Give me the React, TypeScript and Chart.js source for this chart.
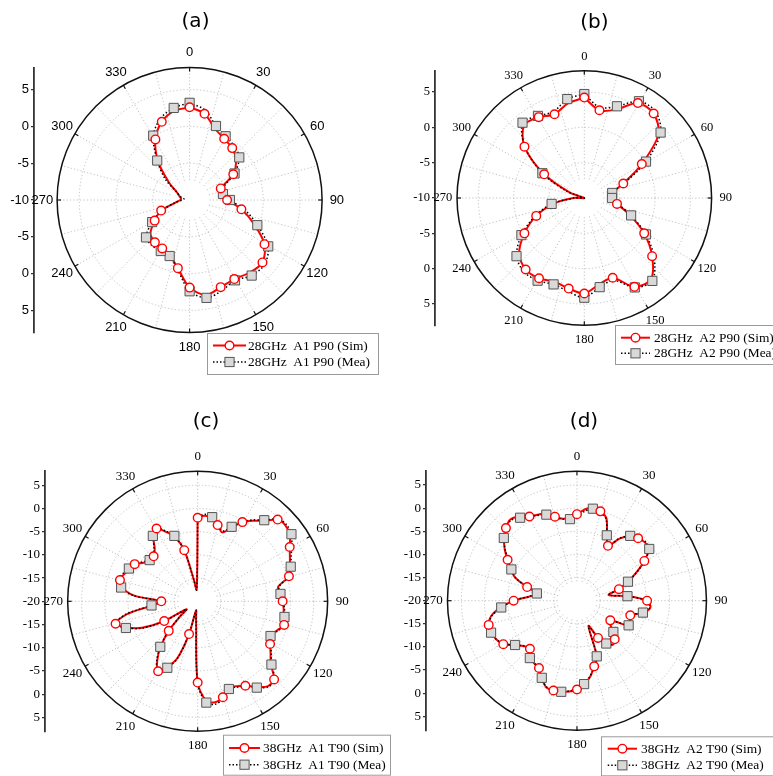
import React, { useEffect, useRef } from 'react';
import { Chart, registerables } from 'chart.js';

Chart.register(...registerables);

// ---- sample angles (degrees, clockwise from 0 at the top) ----
const ANGLES_10 = [
  0, 10, 20, 30, 40, 50, 60, 70, 80, 90, 100, 110, 120, 130, 140, 150, 160, 170,
  180, 190, 200, 210, 220, 230, 240, 250, 260, 270, 280, 290, 300, 310, 320, 330, 340, 350,
];
const ANGLES_5 = [
  0, 5, 10, 15, 20, 25, 30, 35, 40, 45, 50, 55, 60, 65, 70, 75, 80, 85,
  90, 95, 100, 105, 110, 115, 120, 125, 130, 135, 140, 145, 150, 155, 160, 165, 170, 175,
  180, 185, 190, 195, 200, 205, 210, 215, 220, 225, 230, 235, 240, 245, 250, 255, 260, 265,
  270, 275, 280, 285, 290, 295, 300, 305, 310, 315, 320, 325, 330, 335, 340, 345, 350, 355,
];

// ---- angular labels and radial ticks (dB) ----
const ANGLE_LABELS = [0, 30, 60, 90, 120, 150, 180, 210, 240, 270, 300, 330];
const TICKS_28 = [-10, -5, 0, 5];
const RINGS_28 = [-5, 0, 5];
const TICKS_38 = [-20, -15, -10, -5, 0, 5];
const RINGS_38 = [-15, -10, -5, 0, 5];

// ---- (a) 28GHz A1 P90 ----
const SIM_A1_P90 = [
  2.6, 1.9, 0.3, -0.4, -0.8, -1.6, -3.0, -5.4, -5.7, -4.8, -2.7, -0.5, 2.0, 3.2, 2.9, 2.4, 2.6, 3.1,
  1.9, -0.6, -2.0, -2.4, -2.5, -2.9, -4.4, -5.8, -8.0, -8.7, -8.8, -8.5, -8.0, -6.2, -3.2, -0.5, 1.3, 2.3,
];
const MEA_A1_P90 = [
  3.2, 2.4, 0.7, 0.0, -0.4, -1.0, -2.8, -5.0, -5.3, -4.4, -2.2, 0.0, 2.6, 3.6, 3.4, 2.6, 3.1, 3.5,
  2.4, -0.4, -1.9, -2.0, -1.9, -2.1, -4.0, -5.9, -8.0, -9.0, -9.2, -8.6, -8.0, -5.6, -3.0, 0.1, 1.8, 2.7,
];

// ---- (b) 28GHz A2 P90 ----
const SIM_A2_P90 = [
  4.2, 2.6, 3.3, 5.5, 5.6, 4.0, -0.4, -4.0, -6.0, -6.2, -5.2, -3.0, 0.0, 2.8, 5.0, 4.5, 2.0, 2.4,
  3.5, 3.0, 2.6, 3.1, 3.2, 2.3, 0.0, -2.6, -5.6, -8.4, -10.0, -7.8, -3.3, 1.3, 3.5, 3.2, 2.6, 3.6,
];
const MEA_A2_P90 = [
  4.7, 3.0, 3.8, 5.8, 6.0, 4.4, 0.3, -3.8, -5.9, -6.0, -5.0, -2.8, 0.3, 3.2, 5.3, 4.6, 2.4, 2.8,
  4.1, 3.4, 3.0, 3.5, 3.6, 2.8, 0.5, -2.4, -5.2, -8.6, -10.0, -7.4, -3.0, 1.2, 3.9, 3.4, 3.0, 4.2,
];

// ---- (c) 38GHz A1 T90 ----
const SIM_A1_T90 = [
  -2.0, -1.5, -1.8, -3.0, -4.2, -2.5, -0.3, 1.2, 2.6, 4.9, 5.3, 4.8, 3.4, 2.4, 1.6, 0.8, -2.0, -1.9,
  -1.3, -1.0, -0.8, -0.3, -1.5, -2.4, -1.6, -0.4, 1.0, 3.8, 3.9, 2.5, 1.0, 0.2, -0.2, 1.4, 2.1, 1.5,
  -2.5, -16.0, -18.0, -12.7, -7.0, -4.5, -2.6, -4.5, -7.4, -11.0, -15.0, -17.0, -11.5, -6.5, -3.5, -1.3, -4.2, -10.0,
  -12.0, -6.0, -3.1, -2.3, -2.8, -3.5, -4.0, -5.5, -6.4, -6.3, -5.3, -3.0, -1.9, -3.5, -5.2, -8.6, -15.5, -17.5,
];
const MEA_A1_T90 = [
  -1.8, -1.2, -1.6, -2.7, -3.9, -2.3, -0.2, 1.4, 2.8, 5.1, 5.6, 5.2, 3.9, 2.7, 1.8, 0.9, -1.8, -1.7,
  -1.2, -0.8, -0.6, -0.1, -1.3, -2.3, -1.4, -0.2, 1.2, 4.0, 4.1, 2.7, 1.2, 0.4, 0.1, 1.7, 2.5, 1.9,
  -2.2, -16.0, -18.0, -12.5, -6.8, -4.2, -2.4, -4.3, -7.2, -11.0, -15.0, -17.0, -11.3, -6.3, -3.2, -1.1, -4.0, -9.8,
  -11.8, -5.8, -2.9, -2.0, -2.5, -3.3, -3.7, -5.2, -6.2, -6.1, -5.1, -2.8, -1.7, -3.3, -5.0, -8.5, -15.5, -17.5,
];

// ---- (d) 38GHz A2 T90 ----
const SIM_A2_T90 = [
  -1.3, -0.2, 0.5, 0.0, -1.0, -4.3, -6.3, -3.6, -1.9, -0.9, -0.4, -0.7, -2.8, -5.5, -8.0, -10.4, -12.9, -8.8,
  -4.5, -3.7, -5.0, -7.8, -7.5, -7.3, -11.5, -11.0, -9.5, -8.2, -7.6, -8.5, -10.7, -14.0, -7.0, -5.3, -3.3, -1.8,
  -0.8, -0.3, 0.0, 0.1, -0.1, -1.5, -3.2, -3.5, -3.7, -5.3, -4.7, -3.2, -1.2, -0.3, 0.1, 0.2, -0.7, -3.0,
  -6.0, -9.5, -11.2, -8.6, -5.5, -3.8, -2.3, -0.5, 1.0, 2.2, 2.9, 2.2, 1.0, 0.5, 0.1, -1.2, -2.0, -2.0,
];
const MEA_A2_T90 = [
  -1.8, -0.6, 0.2, -0.2, -1.2, -4.4, -6.4, -3.5, -1.7, -0.8, -0.2, -0.5, -2.7, -5.4, -8.0, -10.4, -12.8, -8.8,
  -4.7, -3.8, -5.2, -8.0, -7.6, -7.4, -11.5, -11.0, -9.5, -8.2, -7.8, -8.7, -10.7, -14.0, -7.2, -5.3, -3.4, -1.9,
  -1.0, -0.4, 0.0, 0.1, -0.2, -1.6, -3.2, -3.5, -3.8, -5.5, -4.8, -3.3, -1.4, -0.3, 0.2, 0.2, -0.9, -3.2,
  -6.0, -9.4, -11.0, -8.6, -5.6, -4.0, -2.5, -0.6, 1.1, 2.2, 2.7, 1.9, 1.0, 0.4, -0.2, -1.4, -2.1, -2.3,
];

const SANS = '"Liberation Sans", Arial, sans-serif';
const SERIF = '"Liberation Serif", "Times New Roman", serif';
const RED = '#ff0000';

type Panel = {
  id: string;
  title: string;
  left: number; top: number; W: number; H: number;
  cx: number; cy: number; R: number;
  axisX: number; axisW: number;
  titleX: number; titleY: number;
  rMin: number; rMax: number;
  ticks: number[]; rings: number[];
  tickFamily: string; tickSize: number;
  angles: number[]; sim: number[]; mea: number[];
  simLabel: string; meaLabel: string;
  // markers are drawn on `keep` samples out of every `cycle`
  cycle: number; keep: number;
  legend: { x: number; y: number; w: number; h: number; row1: number; row2: number; lx1: number; lx2: number; tx: number };
};

const PANELS: Panel[] = [
  {
    id: 'a', title: '(a)', left: 0, top: 0, W: 386, H: 388,
    cx: 193, cy: 200, R: 132.5, axisX: 34, axisW: 30, titleX: 195.5, titleY: 22,
    rMin: -10, rMax: 8, ticks: TICKS_28, rings: RINGS_28, tickFamily: SANS, tickSize: 13,
    angles: ANGLES_10, sim: SIM_A1_P90, mea: MEA_A1_P90,
    simLabel: '28GHz  A1 P90 (Sim)', meaLabel: '28GHz  A1 P90 (Mea)', cycle: 3, keep: 2,
    legend: { x: 207, y: 333, w: 171, h: 41, row1: 345.5, row2: 362, lx1: 213, lx2: 246, tx: 248 },
  },
  {
    id: 'b', title: '(b)', left: 386, top: 0, W: 387, H: 388,
    cx: 201.7, cy: 198, R: 127.3, axisX: 49, axisW: 32, titleX: 208.3, titleY: 22.5,
    rMin: -10, rMax: 8, ticks: TICKS_28, rings: RINGS_28, tickFamily: SERIF, tickSize: 12.5,
    angles: ANGLES_10, sim: SIM_A2_P90, mea: MEA_A2_P90,
    simLabel: '28GHz  A2 P90 (Sim)', meaLabel: '28GHz  A2 P90 (Mea)', cycle: 3, keep: 2,
    legend: { x: 229, y: 325, w: 170, h: 39, row1: 337.7, row2: 353.3, lx1: 235, lx2: 264, tx: 268 },
  },
  {
    id: 'c', title: '(c)', left: 0, top: 388, W: 395, H: 388,
    cx: 201, cy: 213.3, R: 130, axisX: 45, axisW: 34, titleX: 206, titleY: 33.8,
    rMin: -20, rMax: 8, ticks: TICKS_38, rings: RINGS_38, tickFamily: SERIF, tickSize: 13,
    angles: ANGLES_5, sim: SIM_A1_T90, mea: MEA_A1_T90,
    simLabel: '38GHz  A1 T90 (Sim)', meaLabel: '38GHz  A1 T90 (Mea)', cycle: 3, keep: 1,
    legend: { x: 223, y: 346.7, w: 167, h: 40, row1: 360, row2: 376.7, lx1: 229, lx2: 260, tx: 263 },
  },
  {
    id: 'd', title: '(d)', left: 386, top: 388, W: 387, H: 388,
    cx: 194.3, cy: 212.7, R: 129.5, axisX: 40, axisW: 34, titleX: 198, titleY: 33.8,
    rMin: -20, rMax: 8, ticks: TICKS_38, rings: RINGS_38, tickFamily: SERIF, tickSize: 13,
    angles: ANGLES_5, sim: SIM_A2_T90, mea: MEA_A2_T90,
    simLabel: '38GHz  A2 T90 (Sim)', meaLabel: '38GHz  A2 T90 (Mea)', cycle: 3, keep: 1,
    legend: { x: 215, y: 348.3, w: 180, h: 39, row1: 360.7, row2: 377.3, lx1: 221.7, lx2: 251, tx: 255 },
  },
];

const SPOKE_STEP = 15;

// Convert (angle, dB) samples into x/y pairs around the plot centre; the loop is closed.
function toXY(angles: number[], values: number[], rMin: number) {
  const pts = angles.map((a, i) => {
    const r = Math.max(values[i] - rMin, 0);
    const t = (a * Math.PI) / 180;
    return { x: r * Math.sin(t), y: r * Math.cos(t) };
  });
  pts.push({ ...pts[0] });
  return pts;
}

function drawCircleMarker(ctx: CanvasRenderingContext2D, x: number, y: number) {
  ctx.beginPath();
  ctx.arc(x, y, 4.3, 0, Math.PI * 2);
  ctx.fillStyle = '#fff';
  ctx.fill();
  ctx.lineWidth = 1.4;
  ctx.strokeStyle = RED;
  ctx.stroke();
}

function drawSquareMarker(ctx: CanvasRenderingContext2D, x: number, y: number) {
  ctx.fillStyle = '#d9d9d9';
  ctx.fillRect(x - 4.6, y - 4.6, 9.2, 9.2);
  ctx.lineWidth = 1;
  ctx.strokeStyle = '#555';
  ctx.strokeRect(x - 4.6, y - 4.6, 9.2, 9.2);
}

function framePlugin(p: Panel) {
  return {
    id: 'polarFrame_' + p.id,
    beforeDatasetsDraw(chart: any) {
      const ctx: CanvasRenderingContext2D = chart.ctx;
      const xs = chart.scales.x;
      const ys = chart.scales.y;
      const cx = xs.getPixelForValue(0);
      const cy = ys.getPixelForValue(0);
      const k = ys.getPixelForValue(0) - ys.getPixelForValue(1);
      const R = (p.rMax - p.rMin) * k;
      ctx.save();
      // dotted rings and spokes
      ctx.setLineDash([1.2, 2.2]);
      ctx.strokeStyle = '#b3b3b3';
      ctx.lineWidth = 0.8;
      p.rings.forEach((db) => {
        ctx.beginPath();
        ctx.arc(cx, cy, (db - p.rMin) * k, 0, Math.PI * 2);
        ctx.stroke();
      });
      const r0 = R * 0.15;
      for (let a = 0; a < 360; a += SPOKE_STEP) {
        const t = (a * Math.PI) / 180;
        const s = Math.sin(t);
        const c = Math.cos(t);
        ctx.beginPath();
        ctx.moveTo(cx + r0 * s, cy - r0 * c);
        ctx.lineTo(cx + R * s, cy - R * c);
        ctx.stroke();
      }
      // outer boundary with inward ticks
      ctx.setLineDash([]);
      ctx.strokeStyle = '#111';
      ctx.lineWidth = 1.5;
      ctx.beginPath();
      ctx.arc(cx, cy, R, 0, Math.PI * 2);
      ctx.stroke();
      ctx.lineWidth = 1.2;
      ANGLE_LABELS.forEach((a) => {
        const t = (a * Math.PI) / 180;
        const s = Math.sin(t);
        const c = Math.cos(t);
        ctx.beginPath();
        ctx.moveTo(cx + R * s, cy - R * c);
        ctx.lineTo(cx + (R - 4) * s, cy - (R - 4) * c);
        ctx.stroke();
      });
      // angle labels
      ctx.fillStyle = '#000';
      ctx.font = `${p.tickSize}px ${p.tickFamily}`;
      ctx.textAlign = 'center';
      ctx.textBaseline = 'middle';
      const rl = R * 1.1 + 1.5;
      ANGLE_LABELS.forEach((a) => {
        const t = (a * Math.PI) / 180;
        ctx.fillText(String(a), cx + rl * Math.sin(t), cy - rl * Math.cos(t));
      });
      // panel title
      ctx.font = '20px "DejaVu Sans", sans-serif';
      ctx.fillText(p.title, p.titleX, p.titleY);
      ctx.restore();
    },
    afterDraw(chart: any) {
      const ctx: CanvasRenderingContext2D = chart.ctx;
      const L = p.legend;
      ctx.save();
      ctx.fillStyle = '#fff';
      ctx.fillRect(L.x, L.y, L.w, L.h);
      ctx.strokeStyle = '#9a9a9a';
      ctx.lineWidth = 1;
      ctx.strokeRect(L.x + 0.5, L.y + 0.5, L.w, L.h);
      const mid = (L.lx1 + L.lx2) / 2;
      // simulated entry
      ctx.strokeStyle = RED;
      ctx.lineWidth = 2;
      ctx.beginPath();
      ctx.moveTo(L.lx1, L.row1);
      ctx.lineTo(L.lx2, L.row1);
      ctx.stroke();
      drawCircleMarker(ctx, mid, L.row1);
      // measured entry
      ctx.strokeStyle = '#000';
      ctx.lineWidth = 1.5;
      ctx.setLineDash([1.5, 2]);
      ctx.beginPath();
      ctx.moveTo(L.lx1, L.row2);
      ctx.lineTo(L.lx2, L.row2);
      ctx.stroke();
      ctx.setLineDash([]);
      drawSquareMarker(ctx, mid, L.row2);
      ctx.fillStyle = '#000';
      ctx.font = `13.4px ${SERIF}`;
      ctx.textAlign = 'left';
      ctx.textBaseline = 'middle';
      ctx.fillText(p.simLabel, L.tx, L.row1 + 0.5);
      ctx.fillText(p.meaLabel, L.tx, L.row2 + 0.5);
      ctx.restore();
    },
  };
}

function PolarPanel({ p }: { p: Panel }) {
  const ref = useRef<HTMLCanvasElement>(null);
  useEffect(() => {
    const canvas = ref.current;
    if (!canvas) return;
    const span = p.rMax - p.rMin;
    const k = p.R / span;
    const xMin = -(p.cx - p.axisX) / k;
    const xMax = (p.W - p.cx) / k;
    const tickRadii: number[] = [];
    p.ticks.forEach((db) => {
      const r = db - p.rMin;
      tickRadii.push(r);
      if (r !== 0) tickRadii.push(-r);
    });
    tickRadii.sort((a, b) => a - b);
    const n = p.angles.length;
    const marker = (values: number[], offset: number, size: number) => (ctx: any) => {
      const i = ctx.dataIndex;
      if (i >= n) return 0;
      if (values[i] - p.rMin < 4) return 0;
      return (i + offset) % p.cycle < p.keep ? size : 0;
    };
    const simXY = toXY(p.angles, p.sim, p.rMin);
    const meaXY = toXY(p.angles, p.mea, p.rMin);
    // Curves are drawn first (higher order = further back), markers on top of both curves.
    const chart = new Chart(canvas, {
      type: 'scatter',
      data: {
        datasets: [
          {
            label: p.simLabel,
            data: simXY,
            order: 4,
            showLine: true,
            borderColor: RED,
            borderWidth: 2,
            tension: 0.3,
            pointRadius: 0,
            clip: false,
          } as any,
          {
            label: p.meaLabel,
            data: meaXY,
            order: 3,
            showLine: true,
            borderColor: '#000',
            borderWidth: 1.5,
            borderDash: [1.5, 2.2],
            tension: 0.3,
            pointRadius: 0,
            clip: false,
          } as any,
          {
            label: p.meaLabel + ' markers',
            data: meaXY,
            order: 2,
            showLine: false,
            pointStyle: 'rect',
            pointRadius: marker(p.mea, 1, 6.5),
            pointBackgroundColor: '#d9d9d9',
            pointBorderColor: '#555',
            pointBorderWidth: 1,
            clip: false,
          } as any,
          {
            label: p.simLabel + ' markers',
            data: simXY,
            order: 1,
            showLine: false,
            pointStyle: 'circle',
            pointRadius: marker(p.sim, 0, 4.3),
            pointBackgroundColor: '#fff',
            pointBorderColor: RED,
            pointBorderWidth: 1.4,
            clip: false,
          } as any,
        ],
      },
      options: {
        animation: false,
        responsive: false,
        maintainAspectRatio: false,
        devicePixelRatio: 1,
        events: [],
        layout: {
          padding: {
            left: p.axisX - p.axisW,
            top: p.cy - p.R,
            bottom: p.H - (p.cy + p.R),
            right: 0,
          },
        },
        plugins: {
          legend: { display: false },
          tooltip: { enabled: false },
          title: { display: false },
        },
        scales: {
          x: { type: 'linear', display: false, min: xMin, max: xMax },
          y: {
            type: 'linear',
            position: 'left',
            min: -span,
            max: span,
            afterBuildTicks: (s: any) => {
              s.ticks = tickRadii.map((v) => ({ value: v }));
            },
            afterFit: (s: any) => {
              s.width = p.axisW;
            },
            ticks: {
              autoSkip: false,
              padding: 2,
              color: '#000',
              font: { family: p.tickFamily, size: p.tickSize },
              callback: (v: any) => String(p.rMin + Math.abs(Number(v))),
            },
            grid: { drawOnChartArea: false, drawTicks: true, tickLength: 3, color: '#333', lineWidth: 1.2 },
            border: { display: true, color: '#333', width: 1.8 },
          },
        },
      } as any,
      plugins: [framePlugin(p)],
    });
    return () => chart.destroy();
  }, [p]);
  return (
    <canvas
      ref={ref}
      width={p.W}
      height={p.H}
      style={{ position: 'absolute', left: p.left, top: p.top, width: p.W, height: p.H }}
    />
  );
}

export default function App() {
  return (
    <div style={{ position: 'absolute', left: 0, top: 0, width: 773, height: 776, background: '#fff', overflow: 'hidden' }}>
      {PANELS.map((p) => (
        <PolarPanel key={p.id} p={p} />
      ))}
    </div>
  );
}
